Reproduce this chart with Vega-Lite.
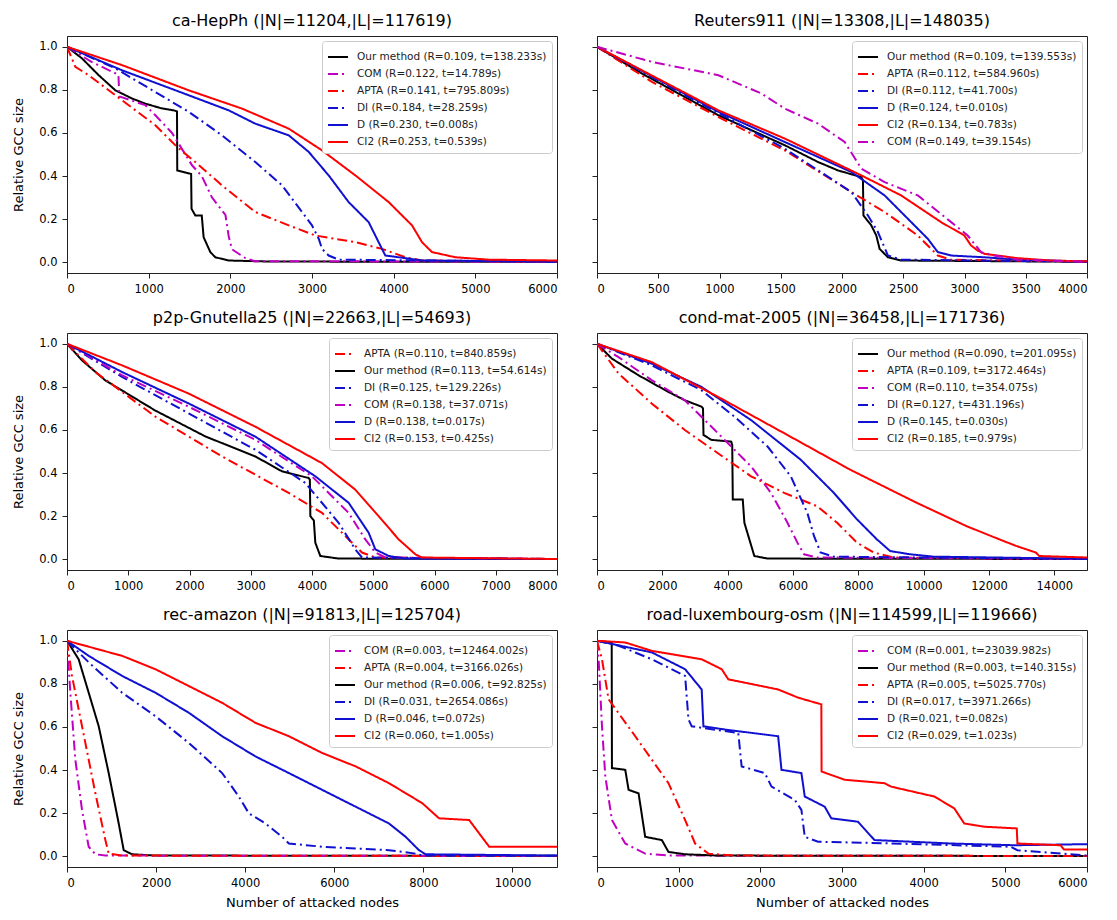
{
"$schema":"https://vega.github.io/schema/vega-lite/v6.json",
"padding":{"left":12,"top":12,"right":5,"bottom":5},
"datasets":{
"a":[
{"m":"Our method","x":0,"y":1},{"m":"Our method","x":184,"y":0.946},{"m":"Our method","x":388,"y":0.868},{"m":"Our method","x":592,"y":0.798},{"m":"Our method","x":796,"y":0.76},{"m":"Our method","x":959,"y":0.736},{"m":"Our method","x":1150,"y":0.715},{"m":"Our method","x":1306,"y":0.705},{"m":"Our method","x":1347,"y":0.7},{"m":"Our method","x":1350,"y":0.426},{"m":"Our method","x":1520,"y":0.41},{"m":"Our method","x":1525,"y":0.248},{"m":"Our method","x":1571,"y":0.217},{"m":"Our method","x":1650,"y":0.217},{"m":"Our method","x":1673,"y":0.116},{"m":"Our method","x":1755,"y":0.047},{"m":"Our method","x":1816,"y":0.023},{"m":"Our method","x":1980,"y":0.008},{"m":"Our method","x":2500,"y":0.003},{"m":"Our method","x":6000,"y":0.002},
{"m":"COM","x":0,"y":1},{"m":"COM","x":300,"y":0.93},{"m":"COM","x":630,"y":0.87},{"m":"COM","x":640,"y":0.77},{"m":"COM","x":959,"y":0.729},{"m":"COM","x":1082,"y":0.682},{"m":"COM","x":1286,"y":0.6},{"m":"COM","x":1531,"y":0.45},{"m":"COM","x":1650,"y":0.4},{"m":"COM","x":1776,"y":0.3},{"m":"COM","x":1940,"y":0.22},{"m":"COM","x":1980,"y":0.12},{"m":"COM","x":2020,"y":0.06},{"m":"COM","x":2180,"y":0.02},{"m":"COM","x":2300,"y":0.005},{"m":"COM","x":6000,"y":0.002},
{"m":"APTA","x":0,"y":1},{"m":"APTA","x":102,"y":0.907},{"m":"APTA","x":265,"y":0.868},{"m":"APTA","x":673,"y":0.752},{"m":"APTA","x":1082,"y":0.636},{"m":"APTA","x":1347,"y":0.535},{"m":"APTA","x":1571,"y":0.465},{"m":"APTA","x":1898,"y":0.357},{"m":"APTA","x":2306,"y":0.233},{"m":"APTA","x":2715,"y":0.171},{"m":"APTA","x":3041,"y":0.124},{"m":"APTA","x":3531,"y":0.093},{"m":"APTA","x":3857,"y":0.062},{"m":"APTA","x":4143,"y":0.023},{"m":"APTA","x":4347,"y":0.008},{"m":"APTA","x":6000,"y":0.002},
{"m":"DI","x":0,"y":1},{"m":"DI","x":592,"y":0.9},{"m":"DI","x":1082,"y":0.79},{"m":"DI","x":1490,"y":0.698},{"m":"DI","x":1898,"y":0.589},{"m":"DI","x":2306,"y":0.465},{"m":"DI","x":2633,"y":0.357},{"m":"DI","x":2878,"y":0.233},{"m":"DI","x":3000,"y":0.171},{"m":"DI","x":3082,"y":0.109},{"m":"DI","x":3123,"y":0.062},{"m":"DI","x":3204,"y":0.031},{"m":"DI","x":3327,"y":0.012},{"m":"DI","x":6000,"y":0.002},
{"m":"D","x":0,"y":1},{"m":"D","x":673,"y":0.891},{"m":"D","x":1490,"y":0.775},{"m":"D","x":1980,"y":0.705},{"m":"D","x":2306,"y":0.643},{"m":"D","x":2715,"y":0.589},{"m":"D","x":2960,"y":0.512},{"m":"D","x":3204,"y":0.403},{"m":"D","x":3449,"y":0.279},{"m":"D","x":3694,"y":0.186},{"m":"D","x":3816,"y":0.093},{"m":"D","x":3898,"y":0.031},{"m":"D","x":4143,"y":0.019},{"m":"D","x":4347,"y":0.008},{"m":"D","x":6000,"y":0.003},
{"m":"CI2","x":0,"y":1},{"m":"CI2","x":673,"y":0.915},{"m":"CI2","x":1490,"y":0.798},{"m":"CI2","x":2143,"y":0.713},{"m":"CI2","x":2715,"y":0.62},{"m":"CI2","x":3123,"y":0.519},{"m":"CI2","x":3531,"y":0.403},{"m":"CI2","x":3939,"y":0.279},{"m":"CI2","x":4225,"y":0.171},{"m":"CI2","x":4347,"y":0.093},{"m":"CI2","x":4470,"y":0.047},{"m":"CI2","x":4756,"y":0.023},{"m":"CI2","x":5163,"y":0.012},{"m":"CI2","x":6000,"y":0.008}
],
"b":[
{"m":"Our method","x":0,"y":1},{"m":"Our method","x":366,"y":0.876},{"m":"Our method","x":991,"y":0.682},{"m":"Our method","x":1533,"y":0.543},{"m":"Our method","x":1805,"y":0.465},{"m":"Our method","x":1968,"y":0.426},{"m":"Our method","x":2158,"y":0.395},{"m":"Our method","x":2171,"y":0.38},{"m":"Our method","x":2175,"y":0.217},{"m":"Our method","x":2239,"y":0.171},{"m":"Our method","x":2280,"y":0.124},{"m":"Our method","x":2307,"y":0.062},{"m":"Our method","x":2375,"y":0.023},{"m":"Our method","x":2483,"y":0.008},{"m":"Our method","x":4000,"y":0.002},
{"m":"APTA","x":0,"y":1},{"m":"APTA","x":448,"y":0.837},{"m":"APTA","x":991,"y":0.674},{"m":"APTA","x":1533,"y":0.519},{"m":"APTA","x":2076,"y":0.326},{"m":"APTA","x":2348,"y":0.233},{"m":"APTA","x":2619,"y":0.124},{"m":"APTA","x":2782,"y":0.031},{"m":"APTA","x":2891,"y":0.012},{"m":"APTA","x":4000,"y":0.002},
{"m":"DI","x":0,"y":1},{"m":"DI","x":719,"y":0.775},{"m":"DI","x":1533,"y":0.527},{"m":"DI","x":2076,"y":0.326},{"m":"DI","x":2212,"y":0.217},{"m":"DI","x":2293,"y":0.14},{"m":"DI","x":2375,"y":0.031},{"m":"DI","x":2483,"y":0.012},{"m":"DI","x":4000,"y":0.002},
{"m":"D","x":0,"y":1},{"m":"D","x":991,"y":0.698},{"m":"D","x":1533,"y":0.558},{"m":"D","x":2076,"y":0.419},{"m":"D","x":2348,"y":0.31},{"m":"D","x":2565,"y":0.186},{"m":"D","x":2700,"y":0.109},{"m":"D","x":2782,"y":0.047},{"m":"D","x":2891,"y":0.031},{"m":"D","x":3162,"y":0.023},{"m":"D","x":3433,"y":0.012},{"m":"D","x":4000,"y":0.003},
{"m":"CI2","x":0,"y":1},{"m":"CI2","x":991,"y":0.705},{"m":"CI2","x":1533,"y":0.574},{"m":"CI2","x":2158,"y":0.403},{"m":"CI2","x":2483,"y":0.31},{"m":"CI2","x":2809,"y":0.186},{"m":"CI2","x":2999,"y":0.124},{"m":"CI2","x":3053,"y":0.078},{"m":"CI2","x":3108,"y":0.054},{"m":"CI2","x":3162,"y":0.039},{"m":"CI2","x":3433,"y":0.019},{"m":"CI2","x":3705,"y":0.008},{"m":"CI2","x":4000,"y":0.004},
{"m":"COM","x":0,"y":1},{"m":"COM","x":448,"y":0.93},{"m":"COM","x":991,"y":0.868},{"m":"COM","x":1343,"y":0.783},{"m":"COM","x":1533,"y":0.713},{"m":"COM","x":1805,"y":0.643},{"m":"COM","x":2022,"y":0.558},{"m":"COM","x":2158,"y":0.434},{"m":"COM","x":2348,"y":0.372},{"m":"COM","x":2619,"y":0.31},{"m":"COM","x":2891,"y":0.186},{"m":"COM","x":3026,"y":0.124},{"m":"COM","x":3135,"y":0.047},{"m":"COM","x":3243,"y":0.031},{"m":"COM","x":3433,"y":0.012},{"m":"COM","x":4000,"y":0.002}
],
"c":[
{"m":"Our method","x":0,"y":1},{"m":"Our method","x":245,"y":0.923},{"m":"Our method","x":626,"y":0.83},{"m":"Our method","x":1442,"y":0.69},{"m":"Our method","x":2259,"y":0.57},{"m":"Our method","x":3075,"y":0.477},{"m":"Our method","x":3510,"y":0.408},{"m":"Our method","x":3945,"y":0.377},{"m":"Our method","x":3965,"y":0.37},{"m":"Our method","x":3973,"y":0.2},{"m":"Our method","x":4030,"y":0.18},{"m":"Our method","x":4054,"y":0.077},{"m":"Our method","x":4136,"y":0.015},{"m":"Our method","x":4435,"y":0.003},{"m":"Our method","x":8000,"y":0.001},
{"m":"APTA","x":0,"y":1},{"m":"APTA","x":463,"y":0.869},{"m":"APTA","x":1442,"y":0.662},{"m":"APTA","x":2530,"y":0.477},{"m":"APTA","x":3619,"y":0.308},{"m":"APTA","x":4163,"y":0.215},{"m":"APTA","x":4544,"y":0.108},{"m":"APTA","x":4816,"y":0.031},{"m":"APTA","x":5034,"y":0.008},{"m":"APTA","x":8000,"y":0.001},
{"m":"DI","x":0,"y":1},{"m":"DI","x":898,"y":0.846},{"m":"DI","x":1986,"y":0.677},{"m":"DI","x":3075,"y":0.508},{"m":"DI","x":3891,"y":0.354},{"m":"DI","x":4435,"y":0.169},{"m":"DI","x":4707,"y":0.046},{"m":"DI","x":4816,"y":0.008},{"m":"DI","x":8000,"y":0.001},
{"m":"COM","x":0,"y":1},{"m":"COM","x":898,"y":0.854},{"m":"COM","x":1986,"y":0.708},{"m":"COM","x":3075,"y":0.554},{"m":"COM","x":3999,"y":0.385},{"m":"COM","x":4598,"y":0.215},{"m":"COM","x":4871,"y":0.092},{"m":"COM","x":5034,"y":0.031},{"m":"COM","x":5197,"y":0.008},{"m":"COM","x":8000,"y":0.001},
{"m":"D","x":0,"y":1},{"m":"D","x":898,"y":0.869},{"m":"D","x":1986,"y":0.723},{"m":"D","x":3075,"y":0.569},{"m":"D","x":4054,"y":0.385},{"m":"D","x":4598,"y":0.262},{"m":"D","x":4925,"y":0.123},{"m":"D","x":5034,"y":0.046},{"m":"D","x":5252,"y":0.015},{"m":"D","x":5524,"y":0.003},{"m":"D","x":8000,"y":0.001},
{"m":"CI2","x":0,"y":1},{"m":"CI2","x":898,"y":0.9},{"m":"CI2","x":1986,"y":0.769},{"m":"CI2","x":3075,"y":0.615},{"m":"CI2","x":4163,"y":0.446},{"m":"CI2","x":4707,"y":0.323},{"m":"CI2","x":5088,"y":0.2},{"m":"CI2","x":5415,"y":0.092},{"m":"CI2","x":5687,"y":0.023},{"m":"CI2","x":5796,"y":0.008},{"m":"CI2","x":8000,"y":0.001}
],
"d":[
{"m":"Our method","x":0,"y":1},{"m":"Our method","x":456,"y":0.931},{"m":"Our method","x":1268,"y":0.854},{"m":"Our method","x":2180,"y":0.777},{"m":"Our method","x":2687,"y":0.738},{"m":"Our method","x":3200,"y":0.708},{"m":"Our method","x":3245,"y":0.7},{"m":"Our method","x":3260,"y":0.577},{"m":"Our method","x":3498,"y":0.554},{"m":"Our method","x":4107,"y":0.546},{"m":"Our method","x":4140,"y":0.53},{"m":"Our method","x":4157,"y":0.277},{"m":"Our method","x":4462,"y":0.277},{"m":"Our method","x":4512,"y":0.169},{"m":"Our method","x":4664,"y":0.092},{"m":"Our method","x":4816,"y":0.015},{"m":"Our method","x":5222,"y":0.003},{"m":"Our method","x":15000,"y":0.001},
{"m":"APTA","x":0,"y":1},{"m":"APTA","x":659,"y":0.862},{"m":"APTA","x":1673,"y":0.723},{"m":"APTA","x":2687,"y":0.6},{"m":"APTA","x":3701,"y":0.492},{"m":"APTA","x":4715,"y":0.385},{"m":"APTA","x":5729,"y":0.308},{"m":"APTA","x":6743,"y":0.246},{"m":"APTA","x":7352,"y":0.169},{"m":"APTA","x":7960,"y":0.077},{"m":"APTA","x":8467,"y":0.031},{"m":"APTA","x":9075,"y":0.008},{"m":"APTA","x":15000,"y":0.001},
{"m":"COM","x":0,"y":1},{"m":"COM","x":659,"y":0.938},{"m":"COM","x":1673,"y":0.831},{"m":"COM","x":2687,"y":0.738},{"m":"COM","x":3701,"y":0.585},{"m":"COM","x":4715,"y":0.431},{"m":"COM","x":5324,"y":0.308},{"m":"COM","x":5831,"y":0.169},{"m":"COM","x":6135,"y":0.077},{"m":"COM","x":6338,"y":0.023},{"m":"COM","x":6743,"y":0.008},{"m":"COM","x":15000,"y":0.001},
{"m":"DI","x":0,"y":1},{"m":"DI","x":1673,"y":0.9},{"m":"DI","x":3194,"y":0.785},{"m":"DI","x":4208,"y":0.662},{"m":"DI","x":5222,"y":0.523},{"m":"DI","x":5932,"y":0.385},{"m":"DI","x":6439,"y":0.215},{"m":"DI","x":6642,"y":0.108},{"m":"DI","x":6845,"y":0.031},{"m":"DI","x":7250,"y":0.012},{"m":"DI","x":15000,"y":0.001},
{"m":"D","x":0,"y":1},{"m":"D","x":1673,"y":0.908},{"m":"D","x":3194,"y":0.8},{"m":"D","x":4715,"y":0.646},{"m":"D","x":6236,"y":0.462},{"m":"D","x":7250,"y":0.308},{"m":"D","x":7960,"y":0.185},{"m":"D","x":8569,"y":0.092},{"m":"D","x":8974,"y":0.038},{"m":"D","x":9582,"y":0.023},{"m":"D","x":10292,"y":0.012},{"m":"D","x":15000,"y":0.002},
{"m":"CI2","x":0,"y":1},{"m":"CI2","x":1673,"y":0.915},{"m":"CI2","x":3701,"y":0.754},{"m":"CI2","x":5729,"y":0.585},{"m":"CI2","x":7757,"y":0.415},{"m":"CI2","x":9785,"y":0.262},{"m":"CI2","x":11306,"y":0.154},{"m":"CI2","x":12320,"y":0.092},{"m":"CI2","x":12827,"y":0.062},{"m":"CI2","x":13436,"y":0.031},{"m":"CI2","x":13537,"y":0.015},{"m":"CI2","x":15000,"y":0.008}
],
"e":[
{"m":"Our method","x":0,"y":1},{"m":"Our method","x":262,"y":0.914},{"m":"Our method","x":487,"y":0.759},{"m":"Our method","x":712,"y":0.603},{"m":"Our method","x":936,"y":0.386},{"m":"Our method","x":1161,"y":0.152},{"m":"Our method","x":1273,"y":0.028},{"m":"Our method","x":1461,"y":0.009},{"m":"Our method","x":1985,"y":0.003},{"m":"Our method","x":11000,"y":0.002},
{"m":"COM","x":0,"y":1},{"m":"COM","x":75,"y":0.759},{"m":"COM","x":187,"y":0.448},{"m":"COM","x":337,"y":0.215},{"m":"COM","x":487,"y":0.044},{"m":"COM","x":637,"y":0.009},{"m":"COM","x":861,"y":0.003},{"m":"COM","x":11000,"y":0.001},
{"m":"APTA","x":0,"y":1},{"m":"APTA","x":112,"y":0.837},{"m":"APTA","x":412,"y":0.526},{"m":"APTA","x":637,"y":0.292},{"m":"APTA","x":861,"y":0.075},{"m":"APTA","x":936,"y":0.012},{"m":"APTA","x":1236,"y":0.003},{"m":"APTA","x":11000,"y":0.001},
{"m":"DI","x":0,"y":1},{"m":"DI","x":487,"y":0.9},{"m":"DI","x":1236,"y":0.759},{"m":"DI","x":1985,"y":0.65},{"m":"DI","x":2734,"y":0.526},{"m":"DI","x":3483,"y":0.386},{"m":"DI","x":3857,"y":0.277},{"m":"DI","x":4082,"y":0.199},{"m":"DI","x":4457,"y":0.152},{"m":"DI","x":4831,"y":0.09},{"m":"DI","x":4981,"y":0.059},{"m":"DI","x":5730,"y":0.044},{"m":"DI","x":7228,"y":0.028},{"m":"DI","x":7827,"y":0.012},{"m":"DI","x":7977,"y":0.003},{"m":"DI","x":11000,"y":0.002},
{"m":"D","x":0,"y":1},{"m":"D","x":487,"y":0.93},{"m":"D","x":1236,"y":0.837},{"m":"D","x":1985,"y":0.759},{"m":"D","x":2734,"y":0.666},{"m":"D","x":3483,"y":0.557},{"m":"D","x":4232,"y":0.463},{"m":"D","x":4981,"y":0.386},{"m":"D","x":5730,"y":0.308},{"m":"D","x":6479,"y":0.23},{"m":"D","x":7228,"y":0.152},{"m":"D","x":7603,"y":0.09},{"m":"D","x":7902,"y":0.028},{"m":"D","x":8052,"y":0.009},{"m":"D","x":11000,"y":0.003},
{"m":"CI2","x":0,"y":1},{"m":"CI2","x":1236,"y":0.93},{"m":"CI2","x":1985,"y":0.868},{"m":"CI2","x":2734,"y":0.79},{"m":"CI2","x":3483,"y":0.712},{"m":"CI2","x":4232,"y":0.619},{"m":"CI2","x":4981,"y":0.557},{"m":"CI2","x":5730,"y":0.479},{"m":"CI2","x":6479,"y":0.417},{"m":"CI2","x":7228,"y":0.339},{"m":"CI2","x":7977,"y":0.246},{"m":"CI2","x":8352,"y":0.176},{"m":"CI2","x":9028,"y":0.168},{"m":"CI2","x":9253,"y":0.106},{"m":"CI2","x":9478,"y":0.044},{"m":"CI2","x":11000,"y":0.044}
],
"f":[
{"m":"COM","x":0,"y":1},{"m":"COM","x":20,"y":0.914},{"m":"COM","x":61,"y":0.603},{"m":"COM","x":102,"y":0.37},{"m":"COM","x":183,"y":0.168},{"m":"COM","x":346,"y":0.059},{"m":"COM","x":590,"y":0.012},{"m":"COM","x":875,"y":0.003},{"m":"COM","x":6000,"y":0.001},
{"m":"Our method","x":0,"y":1},{"m":"Our method","x":180,"y":0.992},{"m":"Our method","x":183,"y":0.409},{"m":"Our method","x":346,"y":0.401},{"m":"Our method","x":387,"y":0.308},{"m":"Our method","x":509,"y":0.292},{"m":"Our method","x":590,"y":0.09},{"m":"Our method","x":794,"y":0.075},{"m":"Our method","x":875,"y":0.02},{"m":"Our method","x":1079,"y":0.009},{"m":"Our method","x":1486,"y":0.003},{"m":"Our method","x":6000,"y":0.001},
{"m":"APTA","x":0,"y":1},{"m":"APTA","x":61,"y":0.914},{"m":"APTA","x":142,"y":0.728},{"m":"APTA","x":468,"y":0.557},{"m":"APTA","x":875,"y":0.339},{"m":"APTA","x":1079,"y":0.168},{"m":"APTA","x":1201,"y":0.059},{"m":"APTA","x":1364,"y":0.012},{"m":"APTA","x":1689,"y":0.003},{"m":"APTA","x":6000,"y":0.001},
{"m":"DI","x":0,"y":1},{"m":"DI","x":265,"y":0.977},{"m":"DI","x":672,"y":0.914},{"m":"DI","x":1079,"y":0.837},{"m":"DI","x":1120,"y":0.635},{"m":"DI","x":1160,"y":0.603},{"m":"DI","x":1730,"y":0.572},{"m":"DI","x":1771,"y":0.417},{"m":"DI","x":2055,"y":0.386},{"m":"DI","x":2137,"y":0.323},{"m":"DI","x":2422,"y":0.261},{"m":"DI","x":2503,"y":0.215},{"m":"DI","x":2544,"y":0.09},{"m":"DI","x":2707,"y":0.067},{"m":"DI","x":3358,"y":0.062},{"m":"DI","x":5067,"y":0.044},{"m":"DI","x":5148,"y":0.028},{"m":"DI","x":6000,"y":0.003},
{"m":"D","x":0,"y":1},{"m":"D","x":672,"y":0.946},{"m":"D","x":1079,"y":0.868},{"m":"D","x":1282,"y":0.774},{"m":"D","x":1303,"y":0.603},{"m":"D","x":1567,"y":0.588},{"m":"D","x":2218,"y":0.557},{"m":"D","x":2259,"y":0.401},{"m":"D","x":2503,"y":0.386},{"m":"D","x":2544,"y":0.277},{"m":"D","x":2788,"y":0.23},{"m":"D","x":2869,"y":0.176},{"m":"D","x":3195,"y":0.16},{"m":"D","x":3398,"y":0.075},{"m":"D","x":4335,"y":0.059},{"m":"D","x":5108,"y":0.051},{"m":"D","x":6000,"y":0.056},
{"m":"CI2","x":0,"y":1},{"m":"CI2","x":346,"y":0.992},{"m":"CI2","x":672,"y":0.953},{"m":"CI2","x":1282,"y":0.914},{"m":"CI2","x":1527,"y":0.868},{"m":"CI2","x":1608,"y":0.821},{"m":"CI2","x":2218,"y":0.774},{"m":"CI2","x":2462,"y":0.736},{"m":"CI2","x":2747,"y":0.705},{"m":"CI2","x":2750,"y":0.393},{"m":"CI2","x":3032,"y":0.355},{"m":"CI2","x":3520,"y":0.339},{"m":"CI2","x":3602,"y":0.323},{"m":"CI2","x":4131,"y":0.277},{"m":"CI2","x":4375,"y":0.222},{"m":"CI2","x":4497,"y":0.152},{"m":"CI2","x":4741,"y":0.137},{"m":"CI2","x":5140,"y":0.129},{"m":"CI2","x":5148,"y":0.059},{"m":"CI2","x":5677,"y":0.051},{"m":"CI2","x":5717,"y":0.031},{"m":"CI2","x":6000,"y":0.031}
]
},
"columns":2,
"spacing":{"row":60,"column":40},
"bounds":"flush",
"resolve":{"scale":{"color":"independent","strokeDash":"independent","x":"independent","y":"independent"},"legend":{"color":"independent","strokeDash":"independent"},"axis":{"x":"independent","y":"independent"}},
"concat":[
{"title":"ca-HepPh (|N|=11204,|L|=117619)","width":490,"height":237,"data":{"name":"a"},
"mark":{"type":"line","strokeWidth":2,"clip":true},
"encoding":{
"x":{"field":"x","type":"quantitative","scale":{"domain":[0,6000],"nice":false},"axis":{"values":[0,1000,2000,3000,4000,5000,6000],"format":"d","title":null}},
"y":{"field":"y","type":"quantitative","scale":{"domain":[-0.05,1.05],"nice":false,"zero":false},"axis":{"values":[0,0.2,0.4,0.6,0.8,1],"format":".1f","title":"Relative GCC size"}},
"color":{"field":"m","type":"nominal","scale":{"domain":["Our method","COM","APTA","DI","D","CI2"],"range":["#000000","#c000c0","#ff0000","#1010d0","#1010d0","#ff0000"]},"legend":{"title":null,"orient":"top-right","offset":5,"labelExpr":"{'Our method':'Our method (R=0.109, t=138.233s)','COM':'COM (R=0.122, t=14.789s)','APTA':'APTA (R=0.141, t=795.809s)','DI':'DI (R=0.184, t=28.259s)','D':'D (R=0.230, t=0.008s)','CI2':'CI2 (R=0.253, t=0.539s)'}[datum.label]"}},
"strokeDash":{"field":"m","type":"nominal","scale":{"domain":["Our method","COM","APTA","DI","D","CI2"],"range":[[1,0],[10,4,2,4],[10,4,2,4],[10,4,2,4],[1,0],[1,0]]},"legend":{"title":null,"orient":"top-right","offset":5,"labelExpr":"{'Our method':'Our method (R=0.109, t=138.233s)','COM':'COM (R=0.122, t=14.789s)','APTA':'APTA (R=0.141, t=795.809s)','DI':'DI (R=0.184, t=28.259s)','D':'D (R=0.230, t=0.008s)','CI2':'CI2 (R=0.253, t=0.539s)'}[datum.label]"}}
}},
{"title":"Reuters911 (|N|=13308,|L|=148035)","width":490,"height":237,"data":{"name":"b"},
"mark":{"type":"line","strokeWidth":2,"clip":true},
"encoding":{
"x":{"field":"x","type":"quantitative","scale":{"domain":[0,4000],"nice":false},"axis":{"values":[0,500,1000,1500,2000,2500,3000,3500,4000],"format":"d","title":null}},
"y":{"field":"y","type":"quantitative","scale":{"domain":[-0.05,1.05],"nice":false,"zero":false},"axis":{"values":[0,0.2,0.4,0.6,0.8,1],"labels":false,"title":null}},
"color":{"field":"m","type":"nominal","scale":{"domain":["Our method","APTA","DI","D","CI2","COM"],"range":["#000000","#ff0000","#1010d0","#1010d0","#ff0000","#c000c0"]},"legend":{"title":null,"orient":"top-right","offset":5,"labelExpr":"{'Our method':'Our method (R=0.109, t=139.553s)','APTA':'APTA (R=0.112, t=584.960s)','DI':'DI (R=0.112, t=41.700s)','D':'D (R=0.124, t=0.010s)','CI2':'CI2 (R=0.134, t=0.783s)','COM':'COM (R=0.149, t=39.154s)'}[datum.label]"}},
"strokeDash":{"field":"m","type":"nominal","scale":{"domain":["Our method","APTA","DI","D","CI2","COM"],"range":[[1,0],[10,4,2,4],[10,4,2,4],[1,0],[1,0],[10,4,2,4]]},"legend":{"title":null,"orient":"top-right","offset":5,"labelExpr":"{'Our method':'Our method (R=0.109, t=139.553s)','APTA':'APTA (R=0.112, t=584.960s)','DI':'DI (R=0.112, t=41.700s)','D':'D (R=0.124, t=0.010s)','CI2':'CI2 (R=0.134, t=0.783s)','COM':'COM (R=0.149, t=39.154s)'}[datum.label]"}}
}},
{"title":"p2p-Gnutella25 (|N|=22663,|L|=54693)","width":490,"height":237,"data":{"name":"c"},
"mark":{"type":"line","strokeWidth":2,"clip":true},
"encoding":{
"x":{"field":"x","type":"quantitative","scale":{"domain":[0,8000],"nice":false},"axis":{"values":[0,1000,2000,3000,4000,5000,6000,7000,8000],"format":"d","title":null}},
"y":{"field":"y","type":"quantitative","scale":{"domain":[-0.05,1.05],"nice":false,"zero":false},"axis":{"values":[0,0.2,0.4,0.6,0.8,1],"format":".1f","title":"Relative GCC size"}},
"color":{"field":"m","type":"nominal","scale":{"domain":["APTA","Our method","DI","COM","D","CI2"],"range":["#ff0000","#000000","#1010d0","#c000c0","#1010d0","#ff0000"]},"legend":{"title":null,"orient":"top-right","offset":5,"labelExpr":"{'APTA':'APTA (R=0.110, t=840.859s)','Our method':'Our method (R=0.113, t=54.614s)','DI':'DI (R=0.125, t=129.226s)','COM':'COM (R=0.138, t=37.071s)','D':'D (R=0.138, t=0.017s)','CI2':'CI2 (R=0.153, t=0.425s)'}[datum.label]"}},
"strokeDash":{"field":"m","type":"nominal","scale":{"domain":["APTA","Our method","DI","COM","D","CI2"],"range":[[10,4,2,4],[1,0],[10,4,2,4],[10,4,2,4],[1,0],[1,0]]},"legend":{"title":null,"orient":"top-right","offset":5,"labelExpr":"{'APTA':'APTA (R=0.110, t=840.859s)','Our method':'Our method (R=0.113, t=54.614s)','DI':'DI (R=0.125, t=129.226s)','COM':'COM (R=0.138, t=37.071s)','D':'D (R=0.138, t=0.017s)','CI2':'CI2 (R=0.153, t=0.425s)'}[datum.label]"}}
}},
{"title":"cond-mat-2005 (|N|=36458,|L|=171736)","width":490,"height":237,"data":{"name":"d"},
"mark":{"type":"line","strokeWidth":2,"clip":true},
"encoding":{
"x":{"field":"x","type":"quantitative","scale":{"domain":[0,15000],"nice":false},"axis":{"values":[0,2000,4000,6000,8000,10000,12000,14000],"format":"d","title":null}},
"y":{"field":"y","type":"quantitative","scale":{"domain":[-0.05,1.05],"nice":false,"zero":false},"axis":{"values":[0,0.2,0.4,0.6,0.8,1],"labels":false,"title":null}},
"color":{"field":"m","type":"nominal","scale":{"domain":["Our method","APTA","COM","DI","D","CI2"],"range":["#000000","#ff0000","#c000c0","#1010d0","#1010d0","#ff0000"]},"legend":{"title":null,"orient":"top-right","offset":5,"labelExpr":"{'Our method':'Our method (R=0.090, t=201.095s)','APTA':'APTA (R=0.109, t=3172.464s)','COM':'COM (R=0.110, t=354.075s)','DI':'DI (R=0.127, t=431.196s)','D':'D (R=0.145, t=0.030s)','CI2':'CI2 (R=0.185, t=0.979s)'}[datum.label]"}},
"strokeDash":{"field":"m","type":"nominal","scale":{"domain":["Our method","APTA","COM","DI","D","CI2"],"range":[[1,0],[10,4,2,4],[10,4,2,4],[10,4,2,4],[1,0],[1,0]]},"legend":{"title":null,"orient":"top-right","offset":5,"labelExpr":"{'Our method':'Our method (R=0.090, t=201.095s)','APTA':'APTA (R=0.109, t=3172.464s)','COM':'COM (R=0.110, t=354.075s)','DI':'DI (R=0.127, t=431.196s)','D':'D (R=0.145, t=0.030s)','CI2':'CI2 (R=0.185, t=0.979s)'}[datum.label]"}}
}},
{"title":"rec-amazon (|N|=91813,|L|=125704)","width":490,"height":237,"data":{"name":"e"},
"mark":{"type":"line","strokeWidth":2,"clip":true},
"encoding":{
"x":{"field":"x","type":"quantitative","scale":{"domain":[0,11000],"nice":false},"axis":{"values":[0,2000,4000,6000,8000,10000],"format":"d","title":"Number of attacked nodes"}},
"y":{"field":"y","type":"quantitative","scale":{"domain":[-0.05,1.05],"nice":false,"zero":false},"axis":{"values":[0,0.2,0.4,0.6,0.8,1],"format":".1f","title":"Relative GCC size"}},
"color":{"field":"m","type":"nominal","scale":{"domain":["COM","APTA","Our method","DI","D","CI2"],"range":["#c000c0","#ff0000","#000000","#1010d0","#1010d0","#ff0000"]},"legend":{"title":null,"orient":"top-right","offset":5,"labelExpr":"{'COM':'COM (R=0.003, t=12464.002s)','APTA':'APTA (R=0.004, t=3166.026s)','Our method':'Our method (R=0.006, t=92.825s)','DI':'DI (R=0.031, t=2654.086s)','D':'D (R=0.046, t=0.072s)','CI2':'CI2 (R=0.060, t=1.005s)'}[datum.label]"}},
"strokeDash":{"field":"m","type":"nominal","scale":{"domain":["COM","APTA","Our method","DI","D","CI2"],"range":[[10,4,2,4],[10,4,2,4],[1,0],[10,4,2,4],[1,0],[1,0]]},"legend":{"title":null,"orient":"top-right","offset":5,"labelExpr":"{'COM':'COM (R=0.003, t=12464.002s)','APTA':'APTA (R=0.004, t=3166.026s)','Our method':'Our method (R=0.006, t=92.825s)','DI':'DI (R=0.031, t=2654.086s)','D':'D (R=0.046, t=0.072s)','CI2':'CI2 (R=0.060, t=1.005s)'}[datum.label]"}}
}},
{"title":"road-luxembourg-osm (|N|=114599,|L|=119666)","width":490,"height":237,"data":{"name":"f"},
"mark":{"type":"line","strokeWidth":2,"clip":true},
"encoding":{
"x":{"field":"x","type":"quantitative","scale":{"domain":[0,6000],"nice":false},"axis":{"values":[0,1000,2000,3000,4000,5000,6000],"format":"d","title":"Number of attacked nodes"}},
"y":{"field":"y","type":"quantitative","scale":{"domain":[-0.05,1.05],"nice":false,"zero":false},"axis":{"values":[0,0.2,0.4,0.6,0.8,1],"labels":false,"title":null}},
"color":{"field":"m","type":"nominal","scale":{"domain":["COM","Our method","APTA","DI","D","CI2"],"range":["#c000c0","#000000","#ff0000","#1010d0","#1010d0","#ff0000"]},"legend":{"title":null,"orient":"top-right","offset":5,"labelExpr":"{'COM':'COM (R=0.001, t=23039.982s)','Our method':'Our method (R=0.003, t=140.315s)','APTA':'APTA (R=0.005, t=5025.770s)','DI':'DI (R=0.017, t=3971.266s)','D':'D (R=0.021, t=0.082s)','CI2':'CI2 (R=0.029, t=1.023s)'}[datum.label]"}},
"strokeDash":{"field":"m","type":"nominal","scale":{"domain":["COM","Our method","APTA","DI","D","CI2"],"range":[[10,4,2,4],[1,0],[10,4,2,4],[10,4,2,4],[1,0],[1,0]]},"legend":{"title":null,"orient":"top-right","offset":5,"labelExpr":"{'COM':'COM (R=0.001, t=23039.982s)','Our method':'Our method (R=0.003, t=140.315s)','APTA':'APTA (R=0.005, t=5025.770s)','DI':'DI (R=0.017, t=3971.266s)','D':'D (R=0.021, t=0.082s)','CI2':'CI2 (R=0.029, t=1.023s)'}[datum.label]"}}
}}
],
"config":{
"font":"DejaVu Sans",
"view":{"stroke":"#222222","strokeWidth":1},
"axis":{"labelFont":"DejaVu Sans","labelFontSize":11.5,"labelColor":"#000000","titleFont":"DejaVu Sans","titleFontSize":13,"titleFontWeight":"normal","titleColor":"#000000","tickColor":"#222222","domainColor":"#222222","grid":false,"tickSize":5,"labelPadding":5},
"axisY":{"titlePadding":13},
"axisX":{"titlePadding":8},
"title":{"font":"DejaVu Sans","fontSize":16,"fontWeight":"normal","color":"#000000","offset":7},
"legend":{"labelFont":"DejaVu Sans","labelFontSize":10.5,"labelColor":"#222222","symbolType":"stroke","symbolSize":400,"symbolStrokeWidth":2,"strokeColor":"#cccccc","fillColor":"#ffffff","padding":5,"rowPadding":0,"cornerRadius":3,"labelOffset":8,"labelLimit":400}
}
}
